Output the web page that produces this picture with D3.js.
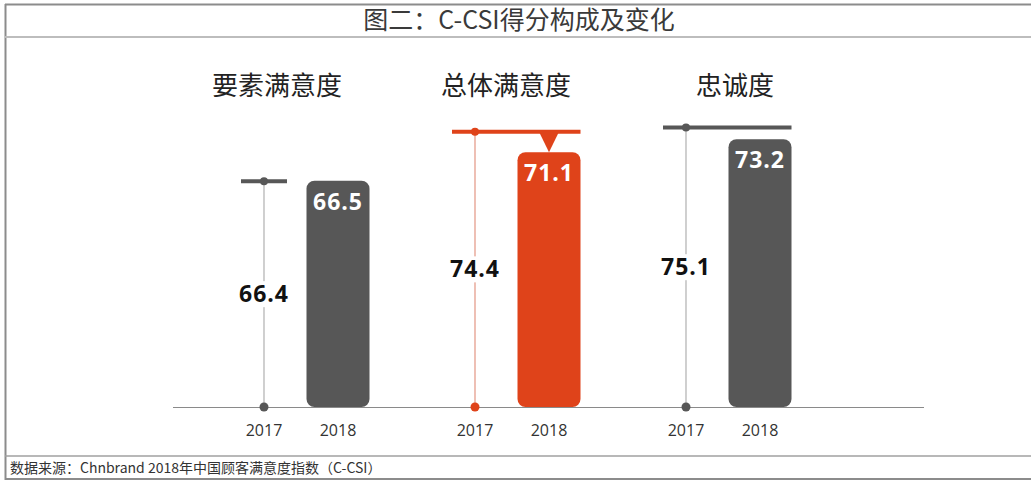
<!DOCTYPE html>
<html><head><meta charset="utf-8">
<script src="https://cdn.jsdelivr.net/npm/d3@7/dist/d3.min.js"></script>
<style>
html,body{margin:0;padding:0;background:#fff;}
svg{display:block;}
</style></head>
<body>
<svg id="c" width="1031" height="480"></svg>
<script>
const titleText = "图二：C-CSI得分构成及变化";
const sourceText = "数据来源：Chnbrand 2018年中国顾客满意度指数（C-CSI）";
const categories = ["要素满意度", "总体满意度", "忠诚度"];
const years = ["2017", "2018"];
const values2017 = [66.4, 74.4, 75.1];
const values2018 = [66.5, 71.1, 73.2];
const highlight = [false, true, false];

const svg = d3.select("#c");
const W = 1031, H = 480;
const cnFont = "'Noto Sans CJK SC','Noto Sans',sans-serif";
const numFont = "'Open Sans','Noto Sans',sans-serif";

// frame
svg.append("line").attr("x1",5).attr("x2",W).attr("y1",4.5).attr("y2",4.5).attr("stroke","#8c8c8c").attr("stroke-width",2);
svg.append("line").attr("x1",5.5).attr("x2",5.5).attr("y1",4).attr("y2",H).attr("stroke","#8c8c8c").attr("stroke-width",2);
svg.append("line").attr("x1",5).attr("x2",W).attr("y1",37).attr("y2",37).attr("stroke","#bdbdbd").attr("stroke-width",2);
svg.append("line").attr("x1",5).attr("x2",W).attr("y1",456).attr("y2",456).attr("stroke","#a0a0a0").attr("stroke-width",1.5);
svg.append("line").attr("x1",5).attr("x2",W).attr("y1",479).attr("y2",479).attr("stroke","#8c8c8c").attr("stroke-width",2);

svg.append("text").attr("x",519).attr("y",29).attr("text-anchor","middle")
  .attr("font-family",cnFont).attr("font-size",25).attr("fill","#3a3a3a").text(titleText);
svg.append("text").attr("x",10).attr("y",473)
  .attr("font-family",cnFont).attr("font-size",14).attr("fill","#333").text(sourceText);

// scales
const y = d3.scaleLinear().domain([30, 80]).range([407, 97]);
const xGroup = d3.scaleBand().domain(categories).range([196, 829]);
const xSub = d3.scalePoint().domain(years).range([68, 142]);
const titleX = d3.scalePoint().domain(categories).range([277, 735]);
const barW = 63;

// baseline
svg.append("line").attr("x1",173).attr("x2",924).attr("y1",y(30)+0.5).attr("y2",y(30)+0.5)
  .attr("stroke","#8a8a8a").attr("stroke-width",1.2);

categories.forEach((cat, i) => {
  const red = highlight[i];
  const main = red ? "#df431a" : "#575757";
  const thin = red ? "#eab0a2" : "#c4c4c4";
  const g = svg.append("g");
  const x17 = xGroup(cat) + xSub("2017");
  const x18 = xGroup(cat) + xSub("2018");
  const v17 = values2017[i], v18 = values2018[i];
  const y17 = y(v17), y18 = y(v18), y0 = y(30);

  g.append("text").attr("x", titleX(cat)).attr("y", 95).attr("text-anchor","middle")
    .attr("font-family",cnFont).attr("font-size",26).attr("fill","#222").text(cat);

  g.append("rect").attr("x", x18 - barW/2).attr("y", y18).attr("width", barW).attr("height", y0 - y18)
    .attr("rx", 8).attr("fill", main);

  g.append("line").attr("x1", x17).attr("x2", x17).attr("y1", y17).attr("y2", y0)
    .attr("stroke", thin).attr("stroke-width", 1.6);

  const capL = x17 - 23;
  const capR = v17 > v18 ? x18 + barW/2 : x17 + 23;
  g.append("line").attr("x1", capL).attr("x2", capR).attr("y1", y17).attr("y2", y17)
    .attr("stroke", main).attr("stroke-width", 4);

  if (v17 - v18 > 2) {
    g.append("path")
      .attr("d", `M${x18-10},${y17} L${x18+10},${y17} L${x18},${y18} Z`)
      .attr("fill", main);
  }

  g.append("circle").attr("cx", x17).attr("cy", y17).attr("r", 4).attr("fill", main);
  g.append("circle").attr("cx", x17).attr("cy", y0).attr("r", 4.5).attr("fill", main);

  const midY = (y17 + y0) / 2;
  g.append("rect").attr("x", x17 - 27).attr("y", midY - 13).attr("width", 54).attr("height", 26).attr("fill", "#fff");
  g.append("text").attr("x", x17).attr("y", midY + 8).attr("text-anchor","middle")
    .attr("font-family",numFont).attr("font-weight",700).attr("font-size",23).attr("letter-spacing",1)
    .attr("fill","#111").text(v17.toFixed(1));

  g.append("text").attr("x", x18).attr("y", y18 + 29).attr("text-anchor","middle")
    .attr("font-family",numFont).attr("font-weight",700).attr("font-size",23).attr("letter-spacing",1)
    .attr("fill","#fff").text(v18.toFixed(1));

  [["2017", x17], ["2018", x18]].forEach(([yr, xx]) => {
    g.append("text").attr("x", xx).attr("y", 436).attr("text-anchor","middle")
      .attr("font-family",numFont).attr("font-size",16).attr("fill","#333").text(yr);
  });
});
</script>
</body></html>
